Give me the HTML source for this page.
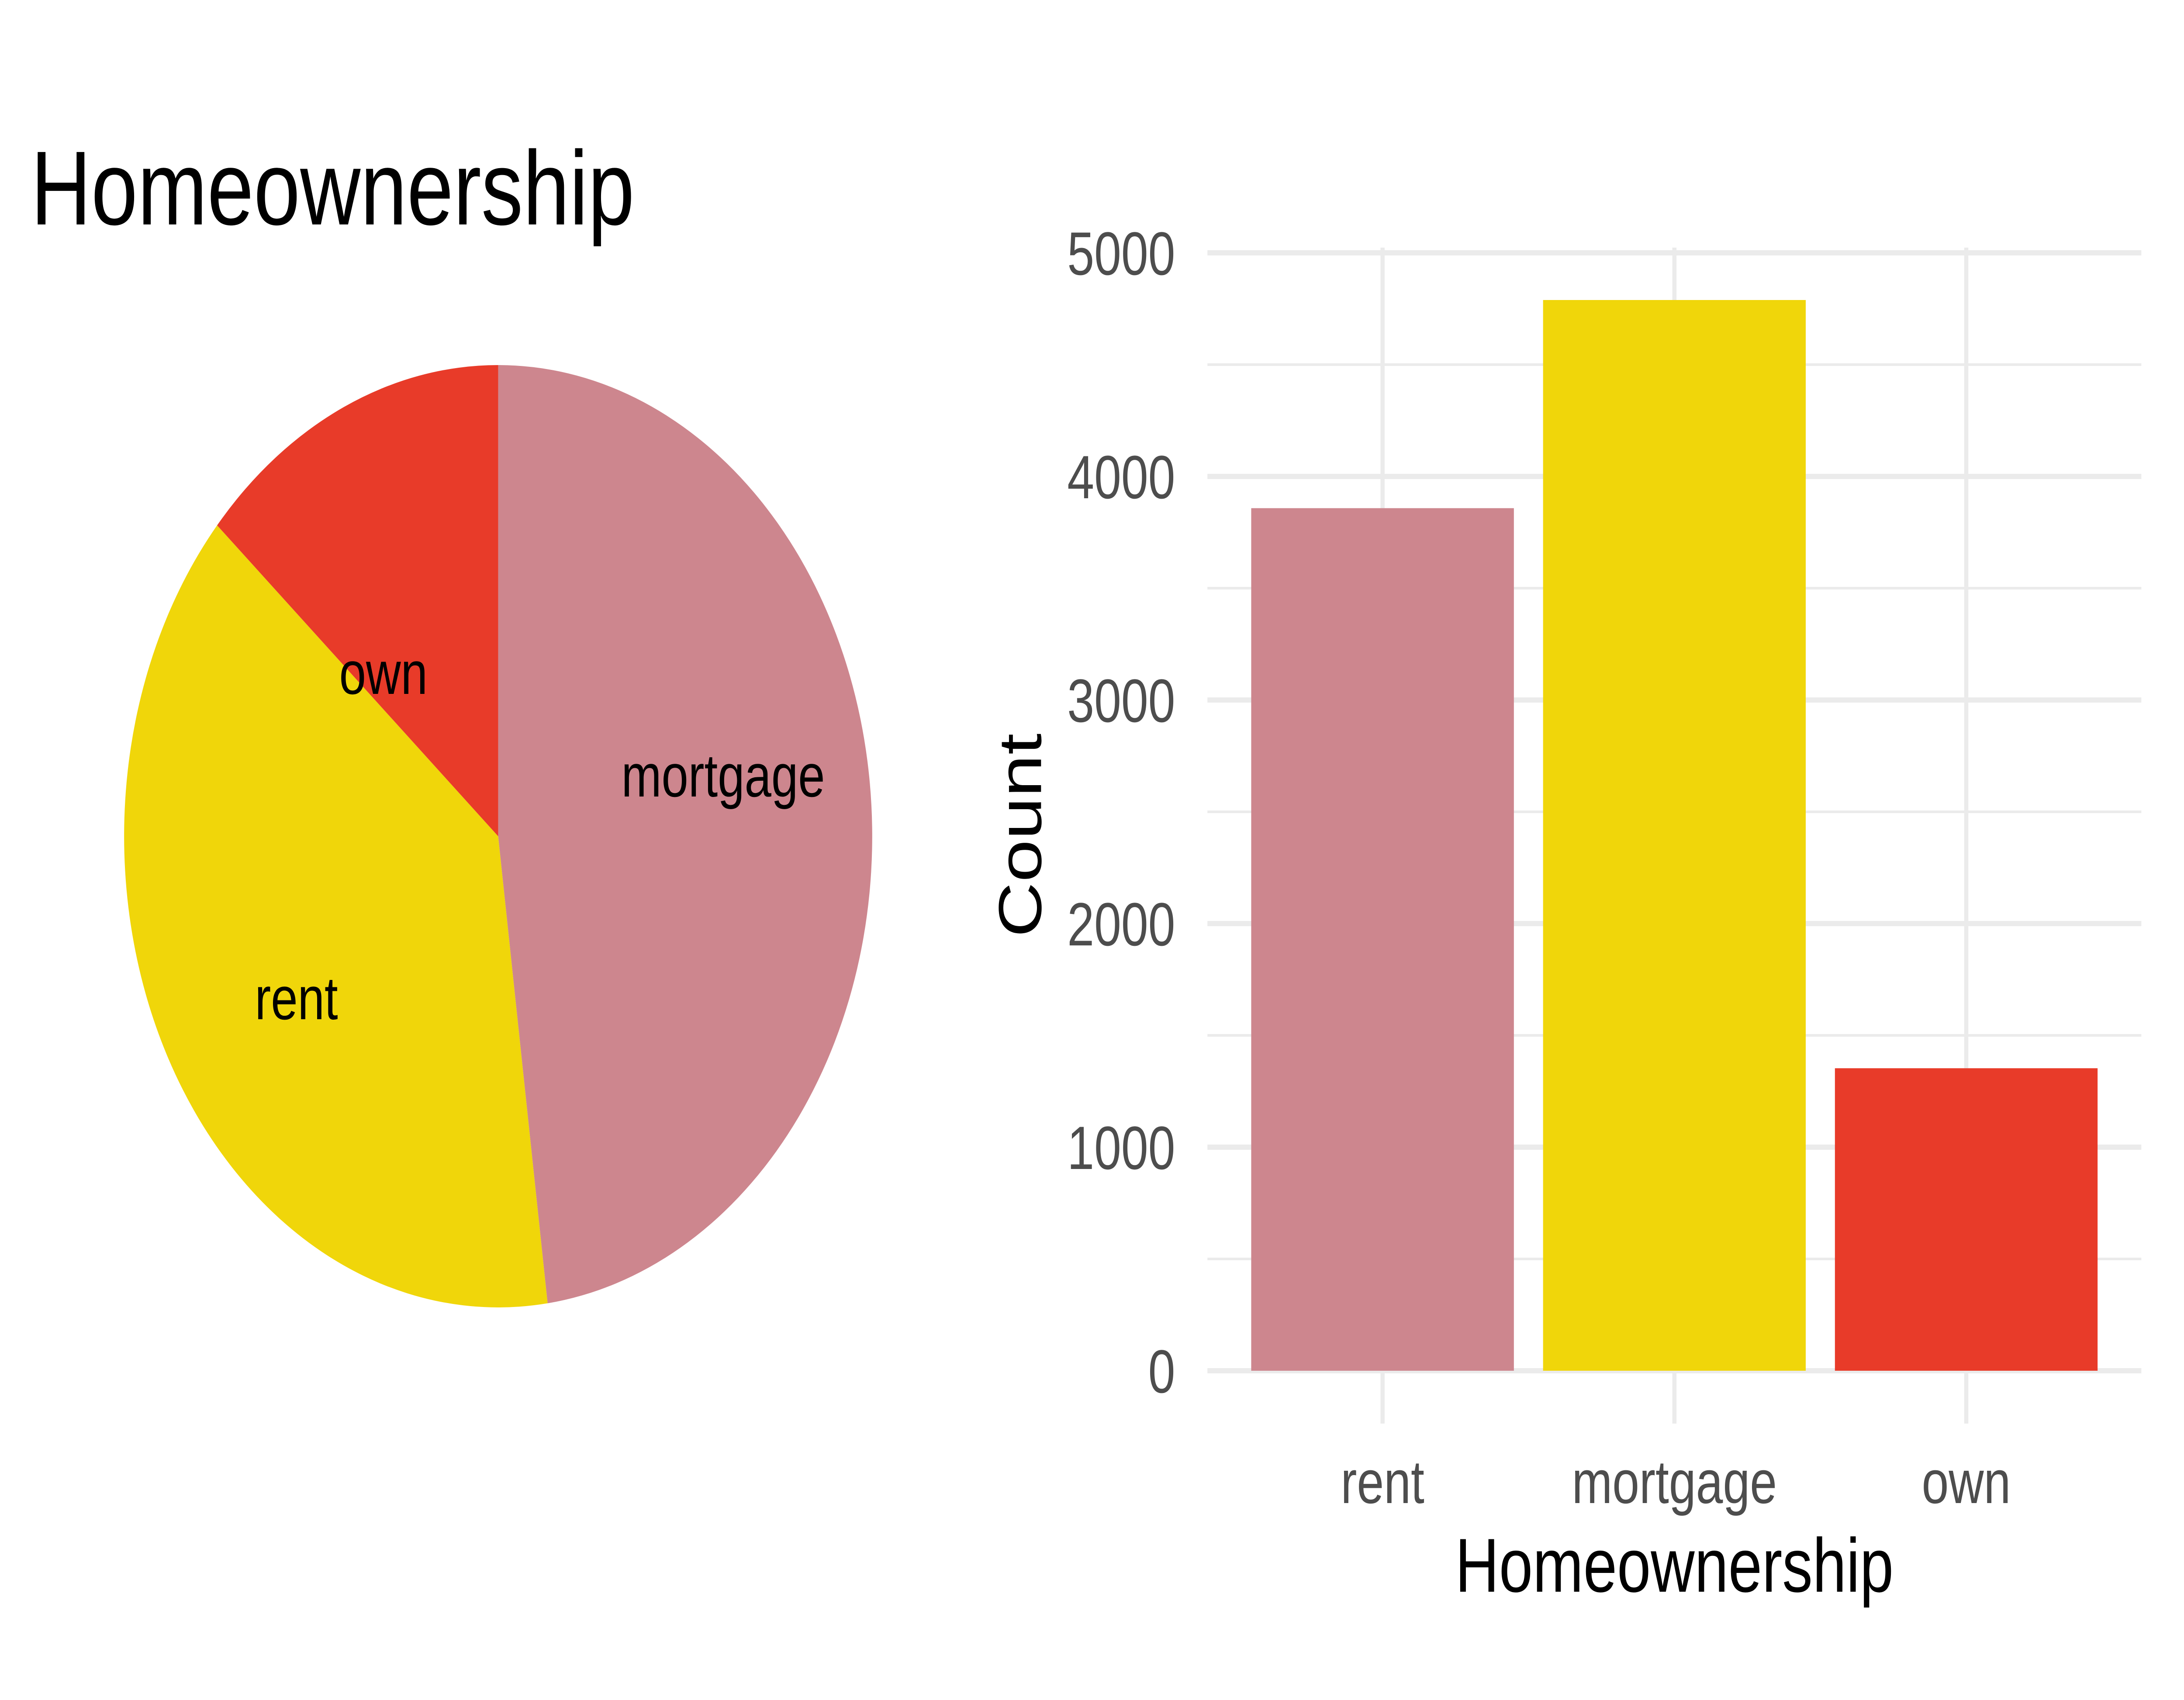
<!DOCTYPE html>
<html><head><meta charset="utf-8"><style>
html,body{margin:0;padding:0;background:#fff;overflow:hidden;width:100%;height:100%;}
svg{display:block;font-family:"Liberation Sans",Arial,sans-serif;width:100vw;height:100vh;}
</style></head><body>
<svg id="chart" viewBox="0 0 6300 3893" preserveAspectRatio="none" xmlns="http://www.w3.org/2000/svg">
<rect width="6300" height="3893" fill="#fff"/>
<text x="89" y="514" font-size="241" fill="#000">Homeownership</text>
<g id="pie"></g>
<g id="bars"></g>
</svg>
<script>
const categories = ["rent", "mortgage", "own"];
const counts = [3858, 4789, 1353];
const colors = ["#CD868E", "#F0D60A", "#E83B29"];
const pieOrder = ["mortgage", "rent", "own"];
const pieColors = ["#CD868E", "#F0D60A", "#E83B29"];
const yTicks = [0, 1000, 2000, 3000, 4000, 5000];
const yMinor = [500, 1500, 2500, 3500, 4500];

const NS = "http://www.w3.org/2000/svg";
function mk(tag, attrs, parent) {
  const e = document.createElementNS(NS, tag);
  for (const k in attrs) e.setAttribute(k, attrs[k]);
  parent.appendChild(e);
  return e;
}

// Pie
const pie = document.getElementById('pie');
const cx = 1437, cy = 1915, r = 1079;
const total = counts.reduce((a, b) => a + b, 0);
let start = 0;
const labelPos = {mortgage: [2086, 1774], rent: [855, 2284], own: [1106, 1539]};
pieOrder.forEach((name, k) => {
  const i = categories.indexOf(name);
  const frac = counts[i] / total;
  const a0 = start * 2 * Math.PI, a1 = (start + frac) * 2 * Math.PI;
  const x0 = cx + r * Math.sin(a0), y0 = cy - r * Math.cos(a0);
  const x1 = cx + r * Math.sin(a1), y1 = cy - r * Math.cos(a1);
  const large = frac > 0.5 ? 1 : 0;
  const p = mk('path', {d: `M${cx},${cy} L${x0},${y0} A${r},${r} 0 ${large} 1 ${x1},${y1} Z`, fill: pieColors[k]}, pie);
  
  
  start += frac;
});
pieOrder.forEach(name => {
  const t = mk('text', {x: labelPos[name][0], y: labelPos[name][1] + 50, 'font-size': 139, 'text-anchor': 'middle', fill: '#000'}, pie);
  t.textContent = name;
  
  
});

// Bars
const g = document.getElementById('bars');
const px0 = 3483, px1 = 6177, pTop = 567, pBot = 3260;
const step = (px1 - px0) / 3.2;
const xC = i => px0 + (i + 0.6) * step;
const yS = v => 3139 - v * (3139 - 579) / 5000;
yMinor.forEach(v => {
  const l = mk('line', {x1: px0, x2: px1, y1: yS(v), y2: yS(v), stroke: '#EBEBEB', 'stroke-width': 6}, g);
  
  
});
yTicks.forEach(v => {
  const l = mk('line', {x1: px0, x2: px1, y1: yS(v), y2: yS(v), stroke: '#EBEBEB', 'stroke-width': 12}, g);
  
  
  const t = mk('text', {x: 3390, y: yS(v) + 50, 'font-size': 140, 'text-anchor': 'end', fill: '#4D4D4D'}, g);
  t.textContent = v;
  
  
});
categories.forEach((c, i) => {
  const l = mk('line', {x1: xC(i), x2: xC(i), y1: pTop, y2: pBot, stroke: '#EBEBEB', 'stroke-width': 12}, g);
  
  
});
categories.forEach((c, i) => {
  const w = step * 0.9;
  const b = mk('rect', {x: xC(i) - w / 2, y: yS(counts[i]), width: w, height: yS(0) - yS(counts[i]), fill: colors[i]}, g);
  
  
  const t = mk('text', {x: xC(i), y: 3442, 'font-size': 140, 'text-anchor': 'middle', fill: '#4D4D4D'}, g);
  t.textContent = c;
  
  
});
const xt = mk('text', {x: xC(1), y: 3645, 'font-size': 175, 'text-anchor': 'middle', fill: '#000'}, g);
xt.textContent = 'Homeownership';


const yt = mk('text', {x: 0, y: 0, 'font-size': 175, 'text-anchor': 'middle', fill: '#000', transform: 'translate(3003,1913) rotate(-90)'}, g);
yt.textContent = 'Count';


</script>
</body></html>
